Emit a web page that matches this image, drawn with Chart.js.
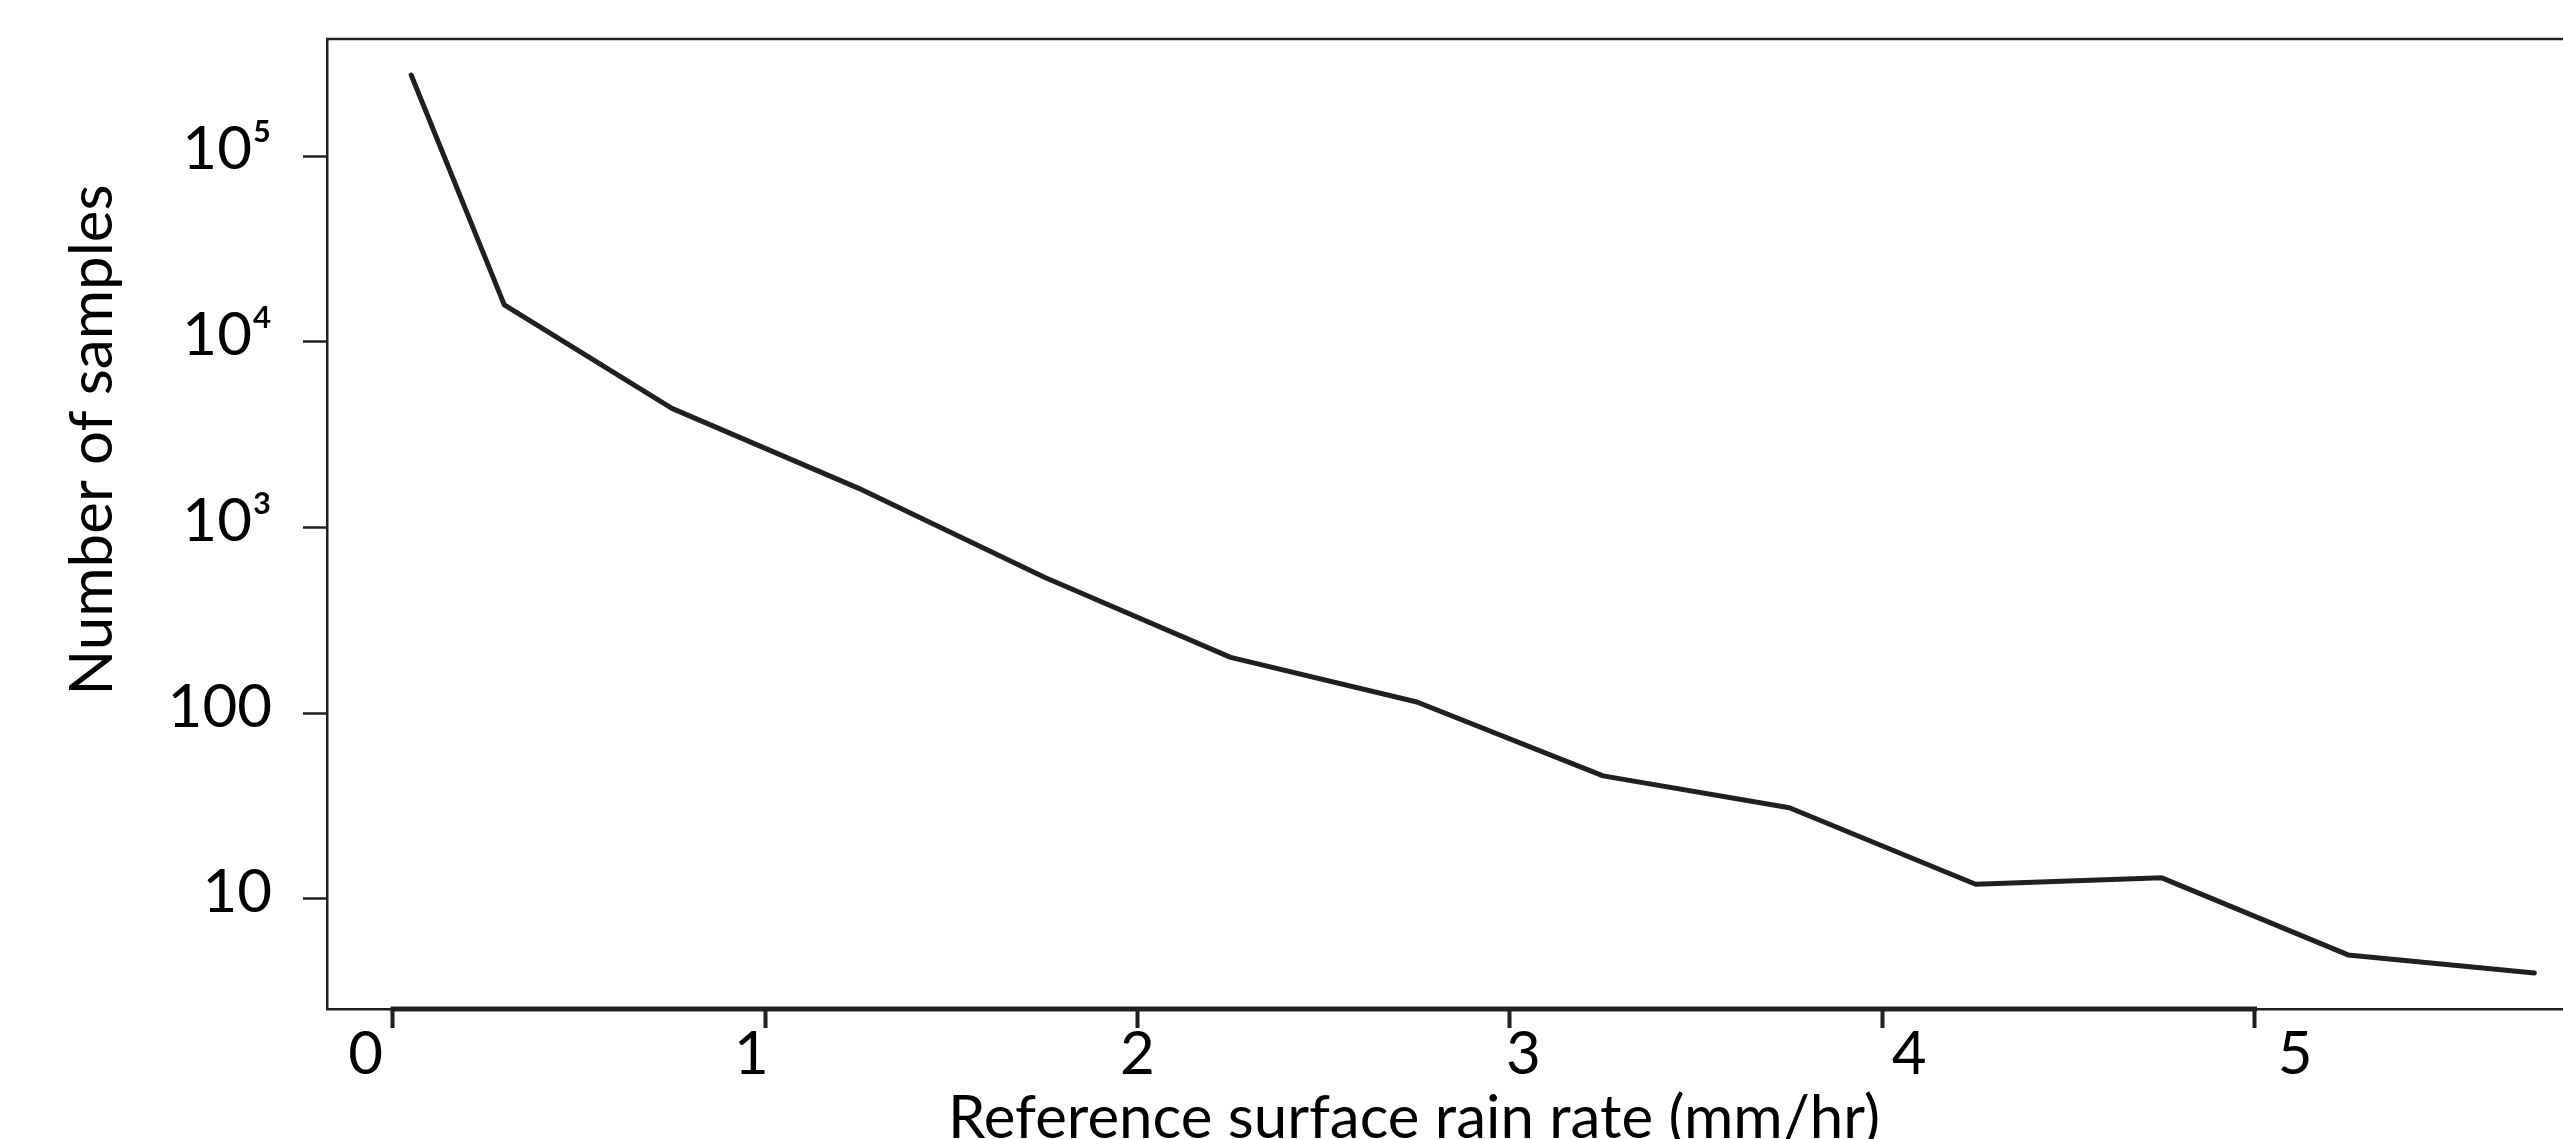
<!DOCTYPE html>
<html>
<head>
<meta charset="utf-8">
<title>Number of samples vs reference surface rain rate</title>
<script src="https://cdn.jsdelivr.net/npm/chart.js@4.4.1/dist/chart.umd.min.js"></script>
<style>
  html, body { margin: 0; padding: 0; background: #fff; overflow: hidden; }
  #wrap { width: 2563px; height: 1139px; }
</style>
</head>
<body>
<div id="wrap"><canvas id="rainChart" width="2563" height="1139"></canvas></div>
<script>
// data (bin centres, mm/hr)
const rainRate = [0.05, 0.3, 0.75, 1.25, 1.75, 2.25, 2.75, 3.25, 3.75, 4.25, 4.75, 5.25, 5.75];
const sampleCounts = [273000, 15800, 4380, 1630, 540, 200, 115, 46, 31, 12, 13, 5, 4];

const xTickValues = [0, 1, 2, 3, 4, 5];
const yTickValues = [10, 100, 1000, 10000, 100000];
const yTickLabels = ["10", "100", "10³", "10⁴", "10⁵"];

const xTitle = "Reference surface rain rate (mm/hr)";
const yTitle = "Number of samples";

const INK = "#231f20";
const FONT = "Lato, 'Noto Sans', sans-serif";

// top border, the heavy axis line between first and last tick, axis titles
const framePlugin = {
  id: "frame",
  afterDraw(chart) {
    const ctx = chart.ctx;
    const area = chart.chartArea;
    const xs = chart.scales.x;

    ctx.save();
    ctx.strokeStyle = INK;
    ctx.lineWidth = 2.5;
    ctx.beginPath();
    ctx.moveTo(area.left - 1, area.top);
    ctx.lineTo(chart.width, area.top);
    ctx.stroke();

    ctx.lineWidth = 5;
    ctx.beginPath();
    ctx.moveTo(xs.getPixelForValue(xTickValues[0]) - 2, area.bottom);
    ctx.lineTo(xs.getPixelForValue(xTickValues[xTickValues.length - 1]) + 2, area.bottom);
    ctx.stroke();

    ctx.fillStyle = "#000";
    ctx.font = `60px ${FONT}`;
    ctx.textAlign = "center";
    ctx.textBaseline = "alphabetic";
    ctx.fillText(xTitle, 1414, 1138);

    ctx.translate(112, 440);
    ctx.rotate(-Math.PI / 2);
    ctx.fillText(yTitle, 0, 0);
    ctx.restore();
  }
};

const ctx = document.getElementById("rainChart");

new Chart(ctx, {
  type: "line",
  data: {
    datasets: [{
      label: yTitle,
      data: rainRate.map((x, i) => ({ x, y: sampleCounts[i] })),
      borderColor: INK,
      borderWidth: 5,
      borderCapStyle: "round",
      borderJoinStyle: "round",
      pointRadius: 0,
      tension: 0,
      fill: false
    }]
  },
  options: {
    responsive: false,
    devicePixelRatio: 1,
    animation: false,
    layout: { padding: { top: 39, left: 0, right: 0, bottom: 0 } },
    plugins: {
      legend: { display: false },
      tooltip: { enabled: false }
    },
    scales: {
      // data axis: border and tick marks
      x: {
        type: "linear",
        min: -0.176,
        max: 5.827,
        weight: 0,
        afterBuildTicks: s => { s.ticks = xTickValues.map(v => ({ value: v })); },
        afterFit: s => { s.height = 10; s.paddingLeft = 0; s.paddingRight = 0; },
        ticks: { display: false, includeBounds: false, autoSkip: false },
        grid: {
          drawOnChartArea: false,
          drawTicks: true,
          tickLength: 19,
          tickWidth: 4,
          tickColor: INK
        },
        border: { display: true, color: INK, width: 2.5 }
      },
      // the printed numbers sit a little off the tick marks in the original
      xLabels: {
        type: "linear",
        position: "bottom",
        min: -0.1,
        max: 5.694,
        weight: 1,
        afterBuildTicks: s => { s.ticks = xTickValues.map(v => ({ value: v })); },
        afterFit: s => { s.height = 120; s.paddingLeft = 0; s.paddingRight = 0; },
        ticks: {
          includeBounds: false,
          autoSkip: false,
          maxRotation: 0,
          padding: 0,
          color: "#000",
          font: { family: FONT, size: 60 },
          callback: v => String(v)
        },
        grid: { display: false, drawTicks: false },
        border: { display: false }
      },
      y: {
        type: "logarithmic",
        min: 2.557,
        max: 426600,
        afterBuildTicks: s => { s.ticks = yTickValues.map(v => ({ value: v })); },
        afterFit: s => { s.width = 327; s.paddingTop = 0; s.paddingBottom = 0; },
        ticks: {
          autoSkip: false,
          padding: 31,
          labelOffset: -6,
          color: "#000",
          font: { family: FONT, size: 60 },
          callback: (v, i) => yTickLabels[i]
        },
        grid: {
          drawOnChartArea: false,
          drawTicks: true,
          tickLength: 24,
          tickWidth: 2.5,
          tickColor: INK
        },
        border: { display: true, color: INK, width: 2.5 }
      }
    }
  },
  plugins: [framePlugin]
});
</script>
</body>
</html>
